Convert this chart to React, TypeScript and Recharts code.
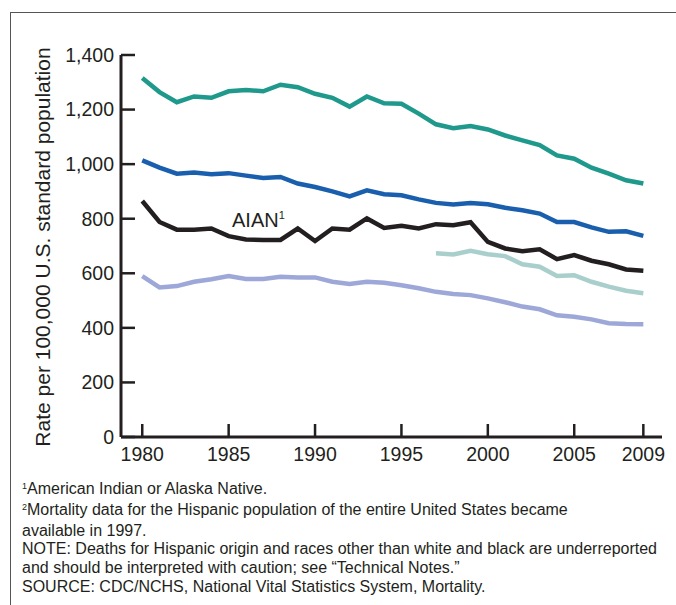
import React from "react";
import { LineChart, Line, XAxis, YAxis } from "recharts";

// Age-adjusted death rates by race / Hispanic origin, 1980-2009
const years = [
  1980, 1981, 1982, 1983, 1984, 1985, 1986, 1987, 1988, 1989, 1990, 1991, 1992, 1993, 1994,
  1995, 1996, 1997, 1998, 1999, 2000, 2001, 2002, 2003, 2004, 2005, 2006, 2007, 2008, 2009,
];
const black = [
  1316, 1264, 1227, 1248, 1243, 1267, 1272, 1267, 1291, 1282, 1258, 1243, 1211, 1248, 1223,
  1221, 1185, 1146, 1132, 1140, 1127, 1105, 1087, 1070, 1032, 1020, 987, 965, 941, 929,
];
const white = [
  1014, 987, 965, 969, 963, 967, 958, 949, 953, 929, 916, 900, 882, 904, 890,
  886, 871, 858, 852, 858, 853, 840, 831, 819, 788, 788, 768, 752, 754, 737,
];
const aian = [
  865, 788, 760, 760, 764, 736, 724, 722, 722, 764, 718, 764, 760, 801, 766,
  774, 764, 780, 776, 787, 715, 691, 681, 688, 652, 667, 646, 633, 614, 609,
];
const hispanic = [
  null, null, null, null, null, null, null, null, null, null, null, null, null, null, null,
  null, null, 673, 669, 682, 670, 663, 633, 624, 590, 593, 569, 551, 536, 527,
];
const api = [
  590, 548, 553, 569, 578, 590, 579, 579, 587, 585, 585, 569, 561, 569, 565,
  556, 545, 532, 524, 520, 508, 494, 478, 468, 446, 441, 431, 417, 414, 413,
];
const xTicks = [1980, 1985, 1990, 1995, 2000, 2005, 2009];
const yTicks = [0, 200, 400, 600, 800, 1000, 1200, 1400];

const data = years.map((year, i) => ({
  year,
  black: black[i],
  white: white[i],
  aian: aian[i],
  hispanic: hispanic[i],
  api: api[i],
}));

const FONT = '"Liberation Sans", Arial, Helvetica, sans-serif';
const INK = "#231f20";

const fmt = (v: number) => v.toLocaleString("en-US");

export default function App() {
  return (
    <div
      style={{
        position: "absolute",
        left: 0,
        top: 0,
        width: 676,
        height: 605,
        background: "#fff",
        fontFamily: FONT,
        color: INK,
        overflow: "hidden",
      }}
    >
      {/* frame, only top and left edges show */}
      <div
        style={{
          position: "absolute",
          left: 10,
          top: 12,
          width: 700,
          height: 700,
          borderTop: "1.5px solid #555",
          borderLeft: "1.5px solid #555",
        }}
      />
      <div style={{ position: "absolute", left: 0, top: 0 }}>
        <LineChart
          width={676}
          height={470}
          data={data}
          margin={{ top: 55, right: 14, left: 0, bottom: 0 }}
        >
          <XAxis
            dataKey="year"
            type="number"
            domain={[1978.77, 2010.08]}
            ticks={xTicks}
            allowDataOverflow
            height={33}
            axisLine={{ stroke: INK, strokeWidth: 3 }}
            tickLine={{ stroke: INK, strokeWidth: 2.5 }}
            tickSize={-13}
            tickMargin={23}
            tick={{ fill: INK, fontSize: 19.5, fontFamily: FONT }}
          />
          <YAxis
            domain={[0, 1400]}
            ticks={yTicks}
            width={121}
            axisLine={{ stroke: INK, strokeWidth: 3 }}
            tickLine={{ stroke: INK, strokeWidth: 2.5 }}
            tickSize={-14}
            tickMargin={21}
            tickFormatter={fmt}
            tick={{ fill: INK, fontSize: 19.5, fontFamily: FONT }}
          />
          <Line dataKey="black" stroke="#1f998c" strokeWidth={4.5} dot={false} isAnimationActive={false} />
          <Line dataKey="white" stroke="#1a5fae" strokeWidth={4.5} dot={false} isAnimationActive={false} />
          <Line dataKey="aian" stroke={INK} strokeWidth={4.5} dot={false} isAnimationActive={false} />
          <Line dataKey="hispanic" stroke="#a9cfcc" strokeWidth={4.5} dot={false} isAnimationActive={false} />
          <Line dataKey="api" stroke="#9da8d8" strokeWidth={4.5} dot={false} isAnimationActive={false} />
        </LineChart>
      </div>
      <svg
        width={676}
        height={470}
        style={{ position: "absolute", left: 0, top: 0, pointerEvents: "none" }}
      >
        <text
          x={50}
          y={247}
          transform="rotate(-90 50 247)"
          textAnchor="middle"
          fontSize={21}
          fontFamily={FONT}
          fill={INK}
        >
          Rate per 100,000 U.S. standard population
        </text>
        <text x={232} y={227} fontSize={20} fontFamily={FONT} fill={INK}>
          AIAN
          <tspan fontSize={11} dy={-8}>
            1
          </tspan>
        </text>
      </svg>
      <div
        style={{
          position: "absolute",
          left: 22,
          top: 480,
          width: 660,
          fontSize: 16,
          lineHeight: "18.8px",
          whiteSpace: "nowrap",
        }}
      >
        <div>
          <span style={{ fontSize: 9, position: "relative", top: -5 }}>1</span>American Indian or
          Alaska Native.
        </div>
        <div>
          <span style={{ fontSize: 9, position: "relative", top: -5 }}>2</span>Mortality data for
          the Hispanic population of the entire United States became
        </div>
        <div>available in 1997.</div>
        <div>
          NOTE: Deaths for Hispanic origin and races other than white and black are underreported
        </div>
        <div>and should be interpreted with caution; see “Technical Notes.”</div>
        <div>SOURCE: CDC/NCHS, National Vital Statistics System, Mortality.</div>
      </div>
    </div>
  );
}
